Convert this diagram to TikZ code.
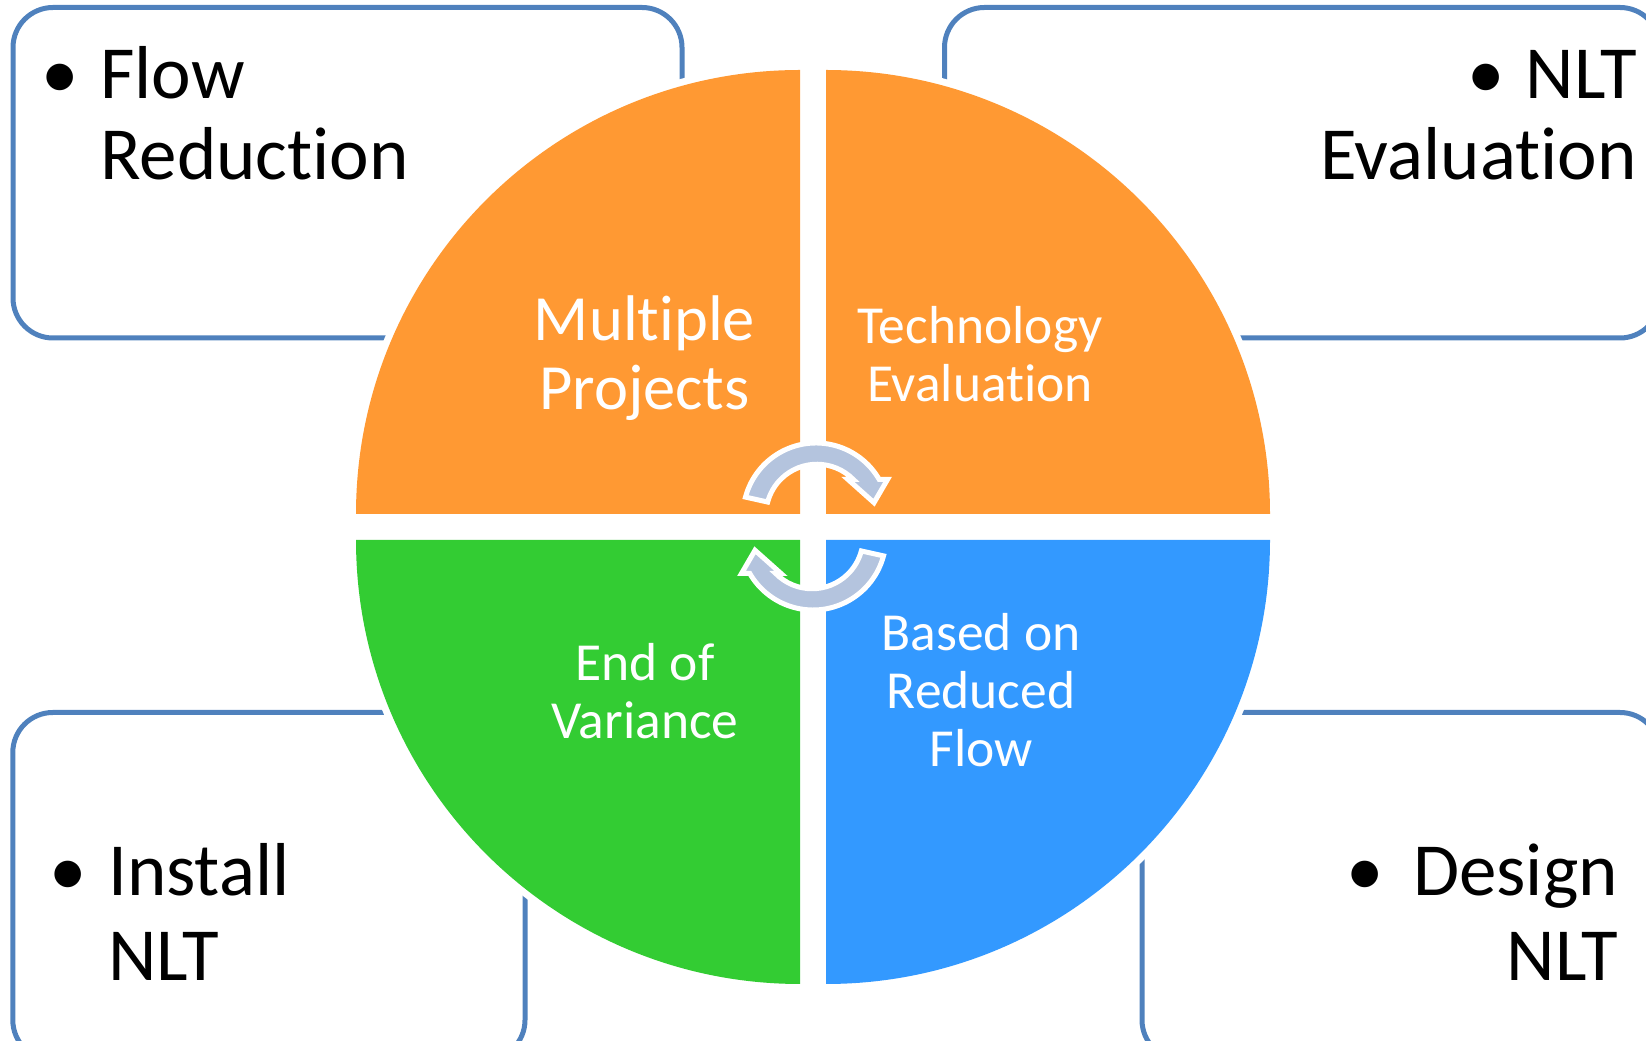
\documentclass[tikz,border=0pt]{standalone}
\usepackage{fontspec}
\setmainfont{Carlito}[Ligatures={NoCommon}]
\newcommand{\tisplit}{\kern0pt }
\definecolor{qorange}{HTML}{FF9933}
\definecolor{qgreen}{HTML}{33CC33}
\definecolor{qblue}{HTML}{3399FF}
\definecolor{boxline}{HTML}{4F81BD}
\definecolor{arrowfill}{HTML}{B4C4DE}
\begin{document}
\begin{tikzpicture}[x=1pt,y=1pt,
  outerbox/.style={draw=boxline, line width=5pt, rounded corners=40pt},
  outertext/.style={inner sep=0pt, font=\fontsize{75}{86}\selectfont, text=black},
  bigwhite/.style={inner sep=0pt, font=\fontsize{64.5}{71}\selectfont, text=white},
  smallwhite/.style={inner sep=0pt, font=\fontsize{53.5}{59}\selectfont, text=white},
  cyc/.style={fill=arrowfill, draw=white, line width=5pt, line join=miter},
  cycarrow/.pic={\path[cyc] (165:73) arc[start angle=165,end angle=30,radius=73] -- (71.5,36.5) -- (58,13.3) -- (32,36.5) -- (37.3,36.5) arc[start angle=44.5,end angle=165,radius=51] -- cycle;}
]
\useasboundingbox (0,0) rectangle (1646,1041);
\clip (0,0) rectangle (1646,1041);

% outer boxes
\draw[outerbox] (13,1033.5) rectangle (682,703);
\draw[outerbox] (944.5,1033.5) rectangle (1660,703);
\draw[outerbox] (12.8,328.5) rectangle (525,-19);
\draw[outerbox] (1142,328.5) rectangle (1660,-19);

% quadrants with white halo
\fill[white] (800,527) -- (349,527) arc[start angle=180,end angle=90,radius=451] -- cycle;
\fill[qorange] (800,527) -- (356,527) arc[start angle=180,end angle=90,radius=444] -- cycle;
\fill[white] (826,527) -- (1277,527) arc[start angle=0,end angle=90,radius=451] -- cycle;
\fill[qorange] (826,527) -- (1270,527) arc[start angle=0,end angle=90,radius=444] -- cycle;
\fill[white] (800,501) -- (349,501) arc[start angle=180,end angle=270,radius=451] -- cycle;
\fill[qgreen] (800,501) -- (356,501) arc[start angle=180,end angle=270,radius=444] -- cycle;
\fill[white] (826,501) -- (1277,501) arc[start angle=0,end angle=-90,radius=451] -- cycle;
\fill[qblue] (826,501) -- (1270,501) arc[start angle=0,end angle=-90,radius=444] -- cycle;

% quadrant texts
\node[bigwhite, anchor=base] (mp1) at (644.5,700.3) {Multiple};
\node[bigwhite, anchor=base] (mp2) at (644.5,631.3) {Projects};
\node[smallwhite, anchor=base] (te1) at (980,697.7) {Technology};
\node[smallwhite, anchor=base] (te2) at (980,639.3) {Evaluat\tisplit ion};
\node[smallwhite, anchor=base] (ev1) at (645,360.3) {End of};
\node[smallwhite, anchor=base] (ev2) at (645,302.7) {Variance};
\node[smallwhite, anchor=base] (rf1) at (981,390.3) {Based on};
\node[smallwhite, anchor=base] (rf2) at (981,332.7) {Reduced};
\node[smallwhite, anchor=base] (rf3) at (981,274.3) {Flow};

% circular arrows
\pic at (816,525) {cycarrow};
\pic[rotate=180] at (813,504) {cycarrow};

% outer texts
\node[outertext, anchor=base] (b1) at (60,942.7) {•};
\node[outertext, anchor=base west] (fr1) at (100,942.7) {Flow};
\node[outertext, anchor=base west] (fr2) at (100,861) {Reduct\tisplit ion};

\node[outertext, anchor=base] (b2) at (1486,942.7) {•};
\node[outertext, anchor=base east] (ne1) at (1637,942.7) {NLT};
\node[outertext, anchor=base east] (ne2) at (1637,861) {Evaluat\tisplit ion};

\node[outertext, anchor=base] (b3) at (68,145) {•};
\node[outertext, anchor=base west] (in1) at (108,145) {Install};
\node[outertext, anchor=base west] (in2) at (108,60.3) {NLT};

\node[outertext, anchor=base] (b4) at (1365,145) {•};
\node[outertext, anchor=base east] (dn1) at (1618,145) {Design};
\node[outertext, anchor=base east] (dn2) at (1618,60.3) {NLT};
\end{tikzpicture}
\end{document}
